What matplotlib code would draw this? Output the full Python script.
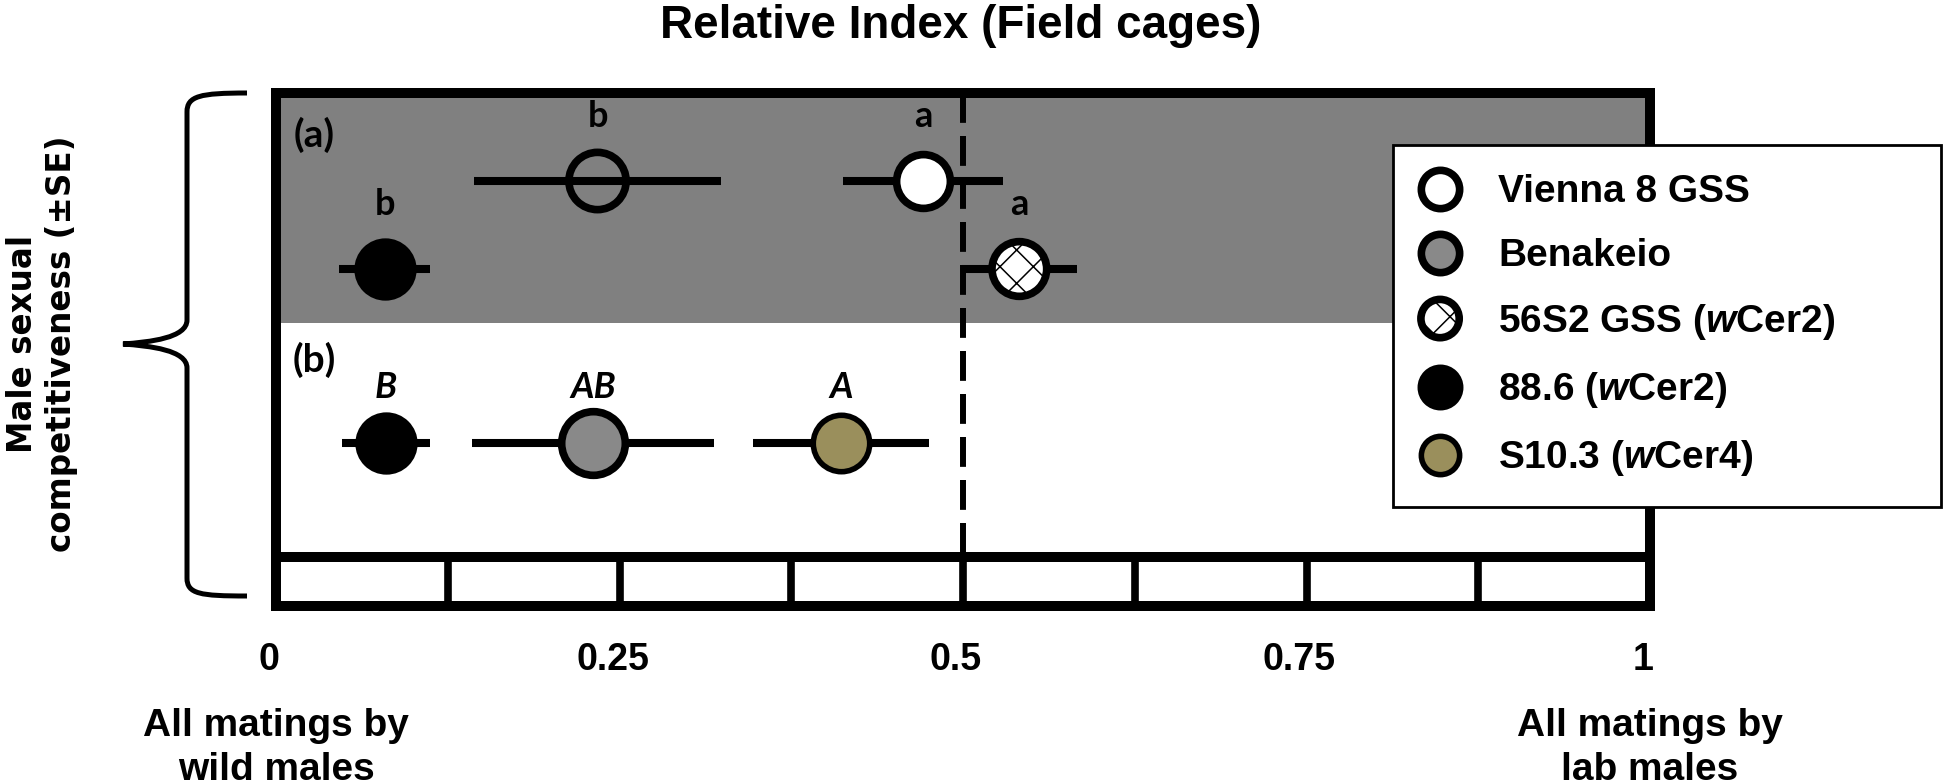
import matplotlib
matplotlib.use("Agg")
import numpy as np
import matplotlib.pyplot as plt
import matplotlib.transforms as mtransforms
from matplotlib.path import Path
from matplotlib.patches import PathPatch
from matplotlib.collections import PathCollection
from matplotlib.legend_handler import HandlerPathCollection

plt.rcParams['font.family'] = ['Liberation Sans', 'DejaVu Sans']
plt.rcParams['mathtext.fontset'] = 'custom'
plt.rcParams['mathtext.bfit'] = 'Liberation Sans:italic:bold'
plt.rcParams['hatch.linewidth'] = 1.1

# relative index (mean +- SE)
strains = ["Vienna 8 GSS", "Benakeio", "56S2 GSS (wCer2)", "88.6 (wCer2)", "S10.3 (wCer4)"]

a_strains = ["Vienna 8 GSS", "Benakeio", "56S2 GSS (wCer2)", "88.6 (wCer2)"]
a_mean = [0.471, 0.234, 0.541, 0.079]
a_se = [0.058, 0.090, 0.042, 0.033]
a_letters = ["a", "b", "a", "b"]

b_strains = ["88.6 (wCer2)", "Benakeio", "S10.3 (wCer4)"]
b_mean = [0.080, 0.231, 0.411]
b_se = [0.032, 0.088, 0.064]
b_letters = ["B", "AB", "A"]

xticks = [0, 0.25, 0.5, 0.75, 1]
xtick_labels = ["0", "0.25", "0.5", "0.75", "1"]

# layout (vertical axis is just pixel rows from the top)
W, H = 1945, 784
a_rows = [181, 181, 269, 269]
b_rows = [443, 443, 443]
band = (93, 323)
strip_y = 557

fill = {
    "Vienna 8 GSS": dict(c='white'),
    "Benakeio": dict(c='#898989'),
    "56S2 GSS (wCer2)": dict(c='white', hatch='x'),
    "88.6 (wCer2)": dict(c='black'),
    "S10.3 (wCer4)": dict(c='#9a8f5c'),
}
a_sizes = [1500, 1700, 1550, 1550]
b_sizes = [1550, 2100, 1650]
letter_font = ['Lato', 'DejaVu Sans']

fig = plt.figure(figsize=(W / 100, H / 100), dpi=100)
ax = fig.add_axes([276 / W, 1 - 606 / H, 1374 / W, 513 / H])
ax.set_xlim(0, 1)
ax.set_ylim(606, 93)

ax.axhspan(*band, color='#808080', lw=0, zorder=0)
ax.axhline(strip_y, color='black', lw=7.2, zorder=4)
ax.vlines(np.arange(1, 8) / 8, strip_y, 606, color='black', lw=5.5, zorder=4)
ax.plot([0.5, 0.5], [93, strip_y], color='black', lw=4.3, ls=(0, (5, 2.2)), zorder=1)

handles = {}
ax.errorbar(a_mean, a_rows, xerr=a_se, fmt='none', ecolor='black', elinewidth=5.8, capsize=0, zorder=2)
for s, m, r, sz, let in zip(a_strains, a_mean, a_rows, a_sizes, a_letters):
    st = dict(fill[s])
    if s == "Benakeio":
        st['c'] = 'none'
    h = ax.scatter([m], [r], s=sz, edgecolors='black', linewidths=5.5, zorder=3, **st)
    handles.setdefault(s, h)
    ax.text(m, r - 54, let, ha='center', va='baseline', fontsize=26,
            fontweight='bold', family=letter_font)

ax.errorbar(b_mean, b_rows, xerr=b_se, fmt='none', ecolor='black', elinewidth=5.8, capsize=0, zorder=2)
for s, m, r, sz, let in zip(b_strains, b_mean, b_rows, b_sizes, b_letters):
    lw = 4 if s.startswith("S10") else 5.5
    h = ax.scatter([m], [r], s=sz, edgecolors='black', linewidths=lw, zorder=3, **fill[s])
    if s != "88.6 (wCer2)":
        handles[s] = h
    ax.text(m, r - 45, let, ha='center', va='baseline', fontsize=26,
            fontweight='bold', fontstyle='italic', family=letter_font)

ax.text(0.028, 135, "(a)", ha='center', va='center', fontsize=28, fontweight='bold', family=letter_font)
ax.text(0.028, 360, "(b)", ha='center', va='center', fontsize=28, fontweight='bold', family=letter_font)

for sp in ax.spines.values():
    sp.set_linewidth(7.2)
    sp.set_zorder(5)
ax.set_yticks([])
ax.set_xticks(xticks, xtick_labels)
ax.tick_params(axis='x', length=0, pad=26, labelsize=27)
shift = mtransforms.ScaledTranslation(-0.07, 0, fig.dpi_scale_trans)
for t in ax.get_xticklabels():
    t.set_fontweight('bold')
    t.set_transform(t.get_transform() + shift)

fig.text(961 / W, 1 - 4 / H, "Relative Index (Field cages)", ha='center', va='top',
         fontsize=33, fontweight='bold')

trans = mtransforms.blended_transform_factory(ax.transData, fig.transFigure)
ax.text(0, 1 - 708 / H, "All matings by\nwild males", transform=trans, ha='center', va='top',
        fontsize=28, fontweight='bold', linespacing=1.27)
ax.text(1, 1 - 708 / H, "All matings by\nlab males", transform=trans, ha='center', va='top',
        fontsize=28, fontweight='bold', linespacing=1.27)

fig.text(42 / W, 1 - 344 / H, "Male sexual\ncompetitiveness (±SE)", rotation=90, ha='center',
         va='center', fontsize=23.5, fontweight='bold', family='DejaVu Sans', linespacing=1.25)

# curly brace left of the panel
px = mtransforms.Affine2D().scale(1 / W, -1 / H).translate(0, 1) + fig.transFigure
verts = [(247, 93), (200, 93), (187, 96), (187, 112),
         (187, 320),
         (187, 338), (150, 342), (123, 344),
         (150, 346), (187, 350), (187, 368),
         (187, 578),
         (187, 594), (200, 596), (247, 596)]
codes = [Path.MOVETO, Path.CURVE4, Path.CURVE4, Path.CURVE4,
         Path.LINETO,
         Path.CURVE4, Path.CURVE4, Path.CURVE4,
         Path.CURVE4, Path.CURVE4, Path.CURVE4,
         Path.LINETO,
         Path.CURVE4, Path.CURVE4, Path.CURVE4]
fig.add_artist(PathPatch(Path(verts, codes), transform=px, fill=False, lw=3.6, color='black'))


def legend_label(s):
    return s.replace("(wCer", "($\\mathbfit{w}$Cer")


leg = fig.legend([handles[s] for s in strains], [legend_label(s) for s in strains],
                 loc='upper left', bbox_to_anchor=(1393 / W, 0.2, 548 / W, 1 - 145 / H - 0.2),
                 mode='expand', borderaxespad=0, prop={'weight': 'bold', 'size': 28},
                 frameon=True, fancybox=False, edgecolor='black', framealpha=1,
                 borderpad=0.75, handlelength=0.92, handletextpad=1.03, labelspacing=0.72,
                 scatteryoffsets=[0.5],
                 handler_map={PathCollection: HandlerPathCollection(sizes=[760])})
leg.get_frame().set_linewidth(2)

fig.savefig("out.png", dpi=100)
